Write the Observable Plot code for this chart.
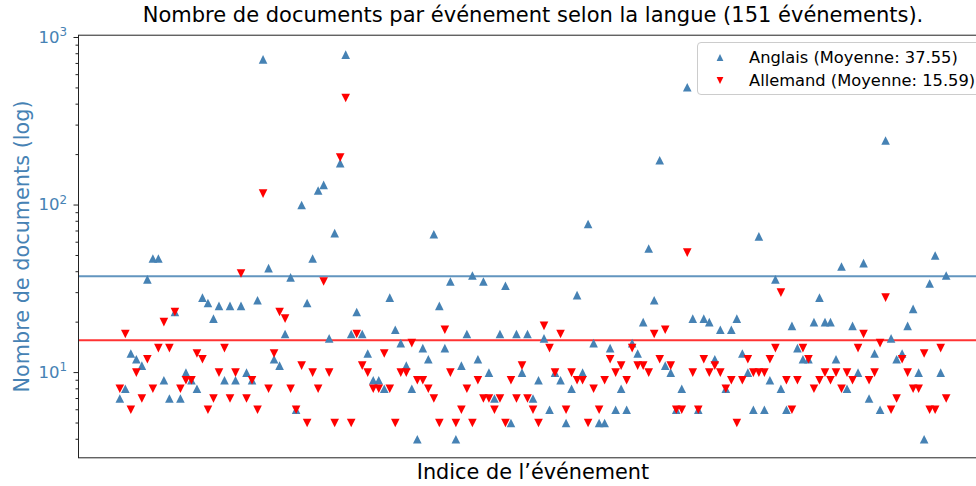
<!DOCTYPE html>
<html>
<head>
<meta charset="utf-8">
<script src="https://cdn.jsdelivr.net/npm/d3@7"></script>
<script src="https://cdn.jsdelivr.net/npm/@observablehq/plot@0.6"></script>
<style>
  html, body { margin: 0; padding: 0; background: #fff; overflow: hidden; }
  #chart { position: relative; width: 976px; height: 486px; overflow: hidden; }
  #chart svg { overflow: hidden; }
</style>
</head>
<body>
<div id="chart"></div>
<script>
// ---- Data ----
const anglais = [
  7, 8, 13, 12, 11, 36, 48, 48, 9, 7,
  23, 7, 10, 9, 8, 28, 26, 21, 25, 9,
  25, 9, 25, 10, 9, 27, 740, 42, 12, 11,
  17, 37, 6, 100, 26, 48, 122, 132, 16, 68,
  178, 790, 17, 23, 17, 13, 9, 9, 8, 28,
  18, 15, 11, 8, 4, 14, 12, 67, 25, 14,
  35, 4, 11, 17, 38, 12, 35, 10, 7, 17,
  33, 5, 17, 10, 17, 7, 9, 16, 6, 10,
  9, 5, 8, 29, 10, 77, 15, 5, 5, 14,
  6, 8, 6, 15, 13, 20, 55, 27, 185, 11,
  10, 6, 8, 505, 21, 6, 21, 20, 12, 18,
  8, 18, 21, 13, 10, 6, 65, 6, 9, 36,
  8, 6, 19, 14, 12, 12, 20, 28, 20, 20,
  12, 43, 8, 19, 10, 45, 7, 13, 6, 243,
  16, 12, 13, 19, 24, 10, 4, 34, 50, 10,
  38
];
const allemand = [
  8, 17, 6, 10, 7, 12, 8, 14, 20, 14,
  23, 8, 9, 9, 13, 12, 6, 7, 10, 14,
  7, 10, 39, 7, 9, 6, 117, 8, 13, 23,
  21, 8, 6, 11, 5, 10, 8, 35, 10, 5,
  192, 435, 5, 17, 11, 10, 8, 8, 13, 8,
  5, 10, 10, 15, 9, 9, 8, 7, 5, 18,
  10, 5, 6, 8, 5, 9, 7, 7, 6, 7,
  5, 9, 7, 11, 7, 6, 5, 19, 14, 10,
  17, 6, 10, 9, 9, 5, 8, 6, 9, 12,
  10, 11, 9, 14, 11, 11, 10, 17, 12, 18,
  11, 6, 6, 52, 10, 6, 12, 10, 11, 10,
  8, 9, 5, 9, 12, 10, 10, 10, 12, 14,
  30, 9, 6, 9, 14, 12, 8, 9, 10, 9,
  10, 8, 10, 9, 14, 17, 9, 10, 15, 28,
  6, 7, 12, 10, 8, 8, 13, 6, 6, 14,
  7
];
const langues = ["Anglais", "Allemand"];
const moyennes = [37.55, 15.59];
const couleurs = ["steelblue", "red"];
const majorTicks = [10, 100, 1000];
const minorTicks = [4, 5, 6, 7, 8, 9, 20, 30, 40, 50, 60, 70, 80, 90, 200, 300, 400, 500, 600, 700, 800, 900];
const titre = "Nombre de documents par événement selon la langue (151 événements).";
const labelX = "Indice de l’événement";
const labelY = "Nombre de documents (log)";

// ---- Symbols (matplotlib-like triangles, bbox-centred) ----
const triUp = { draw(ctx, size) { const r = Math.sqrt(size / Math.PI); ctx.moveTo(0, -r); ctx.lineTo(r, r); ctx.lineTo(-r, r); ctx.closePath(); } };
const triDown = { draw(ctx, size) { const r = Math.sqrt(size / Math.PI); ctx.moveTo(0, r); ctx.lineTo(r, -r); ctx.lineTo(-r, -r); ctx.closePath(); } };

const idx = d3.range(anglais.length);
const FONT = "'DejaVu Sans', sans-serif";

const plot = Plot.plot({
  width: 976,
  height: 486,
  marginLeft: 78,
  marginRight: -11,
  marginTop: 34.7,
  marginBottom: 28.7,
  x: { domain: [-7.5, 157.5], axis: null },
  y: { type: "log", domain: [3.1, 1032], axis: null },
  style: { fontFamily: FONT, background: "white", color: "black" },
  marks: [
    Plot.ruleY([moyennes[0]], { stroke: couleurs[0], strokeOpacity: 0.85, strokeWidth: 2 }),
    Plot.ruleY([moyennes[1]], { stroke: couleurs[1], strokeOpacity: 0.8, strokeWidth: 2 }),
    Plot.dot(idx, { x: i => i, y: i => anglais[i], symbol: triUp, r: 4.3, fill: couleurs[0], stroke: "none" }),
    Plot.dot(idx, { x: i => i, y: i => allemand[i], symbol: triDown, r: 4.3, fill: couleurs[1], stroke: "none" }),
    Plot.frame({ stroke: "#222", strokeWidth: 1 }),
    Plot.axisY({ ticks: minorTicks, tickSize: 2.5, tickFormat: () => "", stroke: "#222" }),
    Plot.axisY({ ticks: majorTicks, tickSize: 4.5, tickPadding: 7,
      tickFormat: d => "10^" + Math.round(Math.log10(d)),
      stroke: "#222", fill: "#4682b4", fontSize: 16.5 }),
    Plot.text([titre], { frameAnchor: "top", dy: -13.7, lineAnchor: "bottom", fontSize: 21, fill: "black" }),
    Plot.text([labelX], { frameAnchor: "bottom", dy: 20.7, lineAnchor: "bottom", fontSize: 20.8, fill: "black" }),
    Plot.text([labelY], { frameAnchor: "left", dx: -50, rotate: -90, textAnchor: "middle", lineAnchor: "bottom", fontSize: 20.8, fill: "#4682b4" })
  ]
});

document.getElementById("chart").appendChild(plot);

// superscript exponents on tick labels
const svg = d3.select(plot);
svg.selectAll("text").each(function () {
  const m = (this.textContent || "").match(/^10\^(\d+)$/);
  if (!m) return;
  const el = d3.select(this);
  el.text("10");
  el.append("tspan").attr("dy", "-0.55em").attr("font-size", "0.72em").text(m[1]);
});

// legend (inside the axes, upper right)
const lg = svg.append("g").attr("font-family", FONT).attr("text-anchor", "start");
lg.append("rect")
  .attr("x", 697.5).attr("y", 42.5).attr("width", 300).attr("height", 52).attr("rx", 3.5)
  .attr("fill", "white").attr("fill-opacity", 0.8).attr("stroke", "#cccccc");
const rows = [
  { sym: triUp, cy: 57.5, base: 63 },
  { sym: triDown, cy: 80.5, base: 86 }
];
rows.forEach((row, k) => {
  lg.append("path")
    .attr("transform", `translate(720,${row.cy})`)
    .attr("d", d3.symbol(row.sym, 3.4 * 3.4 * Math.PI)())
    .attr("fill", couleurs[k]);
  lg.append("text")
    .attr("x", 749).attr("y", row.base)
    .attr("text-anchor", "start")
    .attr("font-size", 16.3).attr("fill", "black")
    .text(`${langues[k]} (Moyenne: ${moyennes[k].toFixed(2)})`);
});
</script>
</body>
</html>
